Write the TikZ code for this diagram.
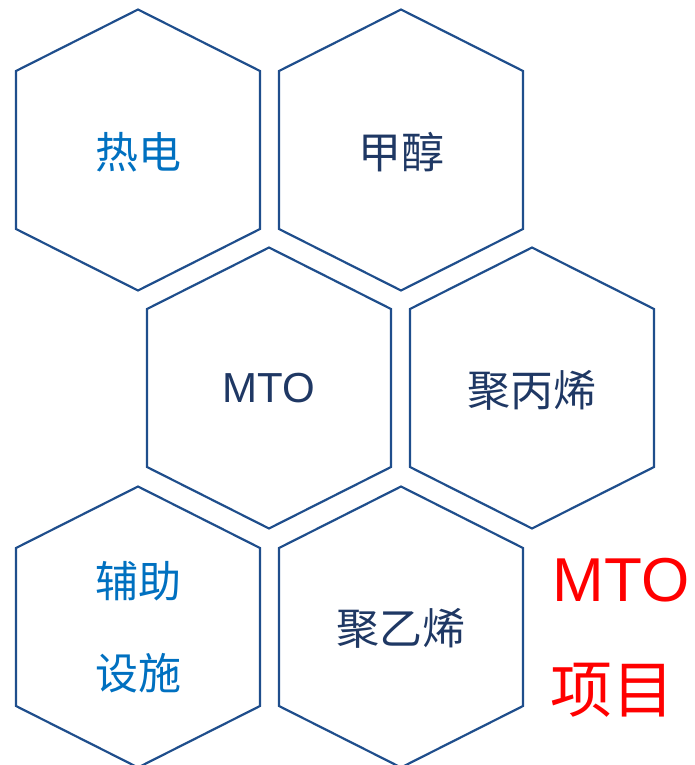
\documentclass[tikz,border=0pt]{standalone}
\usepackage{fontspec}
\setmainfont{Noto Sans CJK SC}
\newfontfamily\latin{Liberation Sans}
\usepackage{tikz}
\definecolor{hexline}{HTML}{1F4E8C}
\definecolor{lightblue}{HTML}{0070C0}
\definecolor{darkblue}{HTML}{1F3864}

\begin{document}
\begin{tikzpicture}[x=1pt,y=-1pt,
  lbl/.style={inner sep=0pt,font=\fontsize{43}{92}\selectfont,align=center},
  big/.style={text=red,inner sep=0pt,font=\fontsize{62}{72}\selectfont}]
  \useasboundingbox (0,0) rectangle (695,765);
  % hexagon outlines, pointy top
  \foreach \x/\y in {138/150, 401/150, 269/388, 532/388, 138/627, 401/627}
    \draw[hexline,line width=2.2pt,line join=miter]
      (\x,\y-140.5) -- (\x+122,\y-79) -- (\x+122,\y+79)
      -- (\x,\y+140.5) -- (\x-122,\y+79) -- (\x-122,\y-79) -- cycle;
  % top row
  \node[lbl,text=lightblue] (heat) at (138,152) {热电};
  \node[lbl,text=darkblue] (meth) at (401,152) {甲醇};
  % middle row
  \node[lbl,text=darkblue,font=\latin\fontsize{42}{50}\selectfont] (mto) at (269,388) {MTO};
  \node[lbl,text=darkblue] (pp) at (532,390) {聚丙烯};
  % bottom row
  \node[lbl,text=lightblue] (aux) at (138,627) {辅助\\设施};
  \node[lbl,text=darkblue] (pe) at (401,628) {聚乙烯};
  % title on the right
  \node[big,font=\latin\fontsize{62}{72}\selectfont] (title) at (621,580) {MTO};
  \node[big] (project) at (612,690) {项目};
\end{tikzpicture}
\end{document}
